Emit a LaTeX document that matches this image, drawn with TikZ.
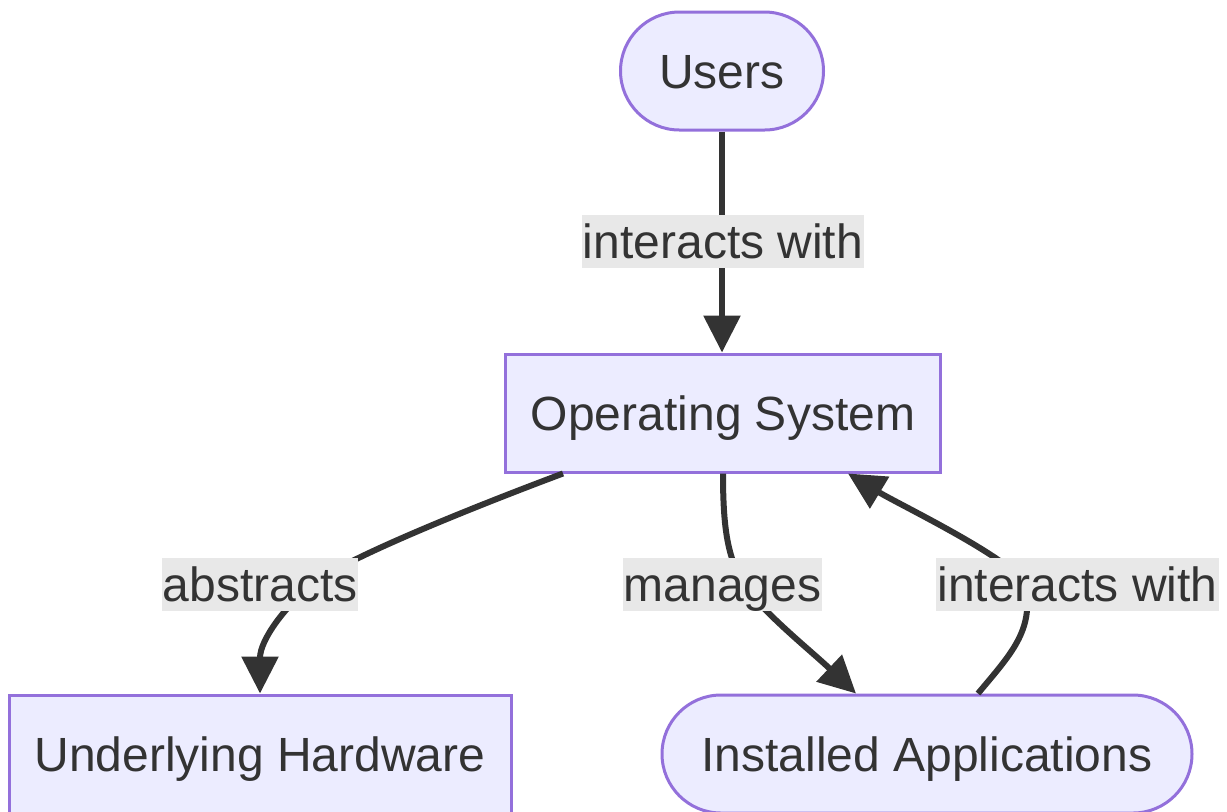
\documentclass[tikz,border=0pt]{standalone}
\usepackage{fontspec}
\setmainfont{Liberation Sans}
\usetikzlibrary{arrows.meta}
\definecolor{nodefill}{HTML}{ECECFF}
\definecolor{nodeline}{HTML}{9370DB}
\definecolor{ink}{HTML}{333333}
\definecolor{lblbg}{HTML}{E8E8E8}
\begin{document}
\begin{tikzpicture}[x=0.5pt,y=-0.5pt,
  box/.style={draw=nodeline, fill=nodefill, line width=1.5pt, inner sep=0pt,
    minimum height=59pt, text=ink, font=\fontsize{24}{28}\selectfont,
    text height=17pt, text depth=0pt},
  pill/.style={box, rounded corners=29.5pt},
  lbl/.style={fill=lblbg, text=ink, inner xsep=0.5pt, inner ysep=0pt,
    text height=21.5pt, text depth=5pt, font=\fontsize{24}{28}\selectfont},
  edge/.style={draw=ink, line width=3pt, -{Triangle[length=18.5pt,width=18pt]}}]
\useasboundingbox (0,0) rectangle (1227,811);
\node[pill, minimum width=101.5pt] (users) at (722,71) {Users};
\node[box, minimum width=217.5pt] (os) at (723,413) {Operating System};
\node[box, minimum width=251pt] (hw) at (260,754) {Underlying Hardware};
\node[pill, minimum width=265pt] (apps) at (927,754) {Installed Applications};

\draw[edge] (users.south) -- (users.south |- os.north);
\draw[edge] ([xshift=-80pt]os.south) .. controls (500,497) and (348,556) .. (313,584)
  .. controls (285,606) and (260,640) .. (hw.north);
\draw[edge] (os.south) .. controls (723,530) and (728,560) .. (745,585)
  .. controls (760,610) and (810,650) .. ([xshift=-35.5pt]apps.north);
\draw[edge] ([xshift=25.5pt]apps.north) .. controls (1010,655) and (1035,630) .. (1025,585)
  .. controls (1015,560) and (900,505) .. ([xshift=62.5pt]os.south);

\node[lbl] (t1) at (723,241.5) {interacts with};
\node[lbl] (t2) at (260,584.5) {abstracts};
\node[lbl] (t3) at (722.5,584.5) {manages};
\node[lbl] (t4) at (1077.5,584.5) {interacts with};
\end{tikzpicture}
\end{document}
